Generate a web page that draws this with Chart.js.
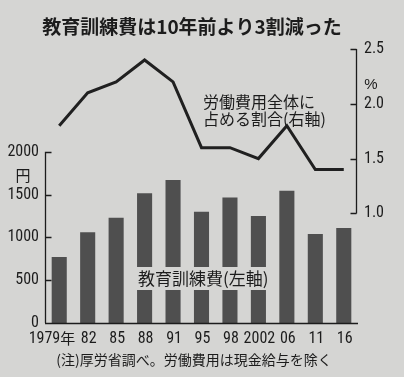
<!DOCTYPE html>
<html lang="ja">
<head>
    <meta charset="UTF-8">
    <title>教育訓練費は10年前より3割減った</title>
    <script src="https://cdn.jsdelivr.net/npm/chart.js"></script>
    <style>
        html, body {
            margin: 0;
            padding: 0;
            background: #d5d5d3;
        }
        #wrap {
            position: relative;
            width: 404px;
            height: 377px;
        }
    </style>
</head>
<body>
    <div id="wrap"><canvas id="chart"></canvas></div>

    <script>
        // data
        const years = ['1979年', '82', '85', '88', '91', '95', '98', '2002', '06', '11', '16'];
        const trainingCost = [770, 1060, 1230, 1515, 1670, 1300, 1465, 1250, 1545, 1040, 1110];   // 円, left axis
        const shareOfLabor = [1.8, 2.1, 2.2, 2.4, 2.2, 1.6, 1.6, 1.5, 1.8, 1.4, 1.4];          // %, right axis
        const leftTicks = [0, 500, 1000, 1500, 2000];
        const rightTicks = [1.0, 1.5, 2.0, 2.5];

        const NUM = '"Liberation Sans Narrow", "Roboto Condensed", "Liberation Sans", sans-serif';
        const JP = '"Noto Sans CJK JP", sans-serif';
        const INK = '#1c1c1c';
        const BG = '#d5d5d3';

        // axis lines, ticks, x labels and the in-chart text
        const decor = {
            id: 'decor',
            afterDatasetsDraw(chart) {
                const c = chart.ctx;
                const area = chart.chartArea;
                const x = chart.scales.x;
                const yl = chart.scales.yL;
                const yr = chart.scales.yR;
                c.save();
                c.strokeStyle = INK;
                c.lineWidth = 1.3;

                // left axis
                const lx = area.left + 0.5;
                c.beginPath();
                c.moveTo(lx, yl.getPixelForValue(2000));
                c.lineTo(lx, yl.getPixelForValue(0));
                leftTicks.forEach(v => {
                    const y = Math.round(yl.getPixelForValue(v)) + 0.5;
                    c.moveTo(lx, y);
                    c.lineTo(lx + 6, y);
                });
                // baseline
                c.moveTo(area.left, Math.round(yl.getPixelForValue(0)) + 0.5);
                c.lineTo(area.right, Math.round(yl.getPixelForValue(0)) + 0.5);
                c.stroke();

                // right axis
                const rx = area.right - 1.5;
                c.beginPath();
                c.moveTo(rx, yr.getPixelForValue(2.5));
                c.lineTo(rx, yr.getPixelForValue(1.0));
                rightTicks.forEach(v => {
                    const y = Math.round(yr.getPixelForValue(v)) + 0.5;
                    c.moveTo(rx, y);
                    c.lineTo(rx - 6, y);
                });
                c.stroke();

                c.fillStyle = INK;
                c.textBaseline = 'middle';

                // x labels; the first one hangs left because of 年
                c.textAlign = 'center';
                years.forEach((lab, i) => {
                    const px = x.getPixelForTick(i);
                    if (lab.endsWith('年')) {
                        const num = lab.slice(0, -1);
                        c.font = '16px ' + NUM;
                        const w = c.measureText(num).width;
                        c.textAlign = 'left';
                        c.fillText(num, px - w + 1, 339);
                        c.font = '15px ' + JP;
                        c.fillText('年', px + 1, 338);
                        c.textAlign = 'center';
                    } else {
                        c.font = '16px ' + NUM;
                        c.fillText(lab, px + 1, 339);
                    }
                });

                // units
                c.font = '15px ' + JP;
                c.fillText('円', 23, 175);
                c.font = '15px "Liberation Sans", sans-serif';
                c.fillText('%', 371, 85);

                // bar label on a paper-coloured box
                c.fillStyle = BG;
                c.fillRect(132, 267, 142, 23);
                c.fillStyle = INK;
                c.font = '17px ' + JP;
                c.textAlign = 'left';
                c.fillText('教育訓練費(左軸)', 138, 279);

                // line label
                c.font = '16px ' + JP;
                c.fillText('労働費用全体に', 203, 102);
                c.fillText('占める割合(右軸)', 203, 119);

                // title
                c.font = 'bold 19px ' + JP;
                c.textAlign = 'center';
                c.fillText('教育訓練費は10年前より3割減った', 192, 27);

                // note
                c.font = '14px ' + JP;
                c.fillText('(注)厚労省調べ。労働費用は現金給与を除く', 194, 360);
                c.restore();
            }
        };

        new Chart(document.getElementById('chart'), {
            type: 'bar',
            data: {
                labels: years,
                datasets: [{
                    type: 'line',
                    data: shareOfLabor,
                    yAxisID: 'yR',
                    borderColor: '#202020',
                    borderWidth: 3,
                    pointRadius: 0,
                    tension: 0,
                    order: 0
                }, {
                    type: 'bar',
                    data: trainingCost,
                    yAxisID: 'yL',
                    backgroundColor: '#4f4f4f',
                    categoryPercentage: 1.0,
                    barPercentage: 0.53,
                    order: 1
                }]
            },
            options: {
                responsive: true,
                maintainAspectRatio: false,
                animation: false,
                events: [],
                layout: { padding: { top: 49, left: 0, right: 0, bottom: 0 } },
                plugins: {
                    legend: { display: false },
                    tooltip: { enabled: false }
                },
                scales: {
                    x: {
                        grid: { display: false, drawTicks: false },
                        border: { display: false },
                        afterFit: s => { s.height = 54; },
                        ticks: { display: false }
                    },
                    yL: {
                        position: 'left',
                        min: 0,
                        max: 3200,
                        grid: { display: false, drawTicks: false },
                        border: { display: false },
                        afterFit: s => { s.width = 45; },
                        afterBuildTicks: s => { s.ticks = leftTicks.map(v => ({ value: v })); },
                        ticks: {
                            color: INK,
                            padding: 6,
                            font: { family: NUM, size: 16 },
                            callback: v => String(v)
                        }
                    },
                    yR: {
                        position: 'right',
                        min: 0,
                        max: 2.5,
                        grid: { display: false, drawTicks: false },
                        border: { display: false },
                        afterFit: s => { s.width = 46; },
                        afterBuildTicks: s => { s.ticks = rightTicks.map(v => ({ value: v })); },
                        ticks: {
                            color: INK,
                            padding: 6,
                            font: { family: NUM, size: 16 },
                            callback: v => Number(v).toFixed(1)
                        }
                    }
                }
            },
            plugins: [decor]
        });
    </script>
</body>
</html>
